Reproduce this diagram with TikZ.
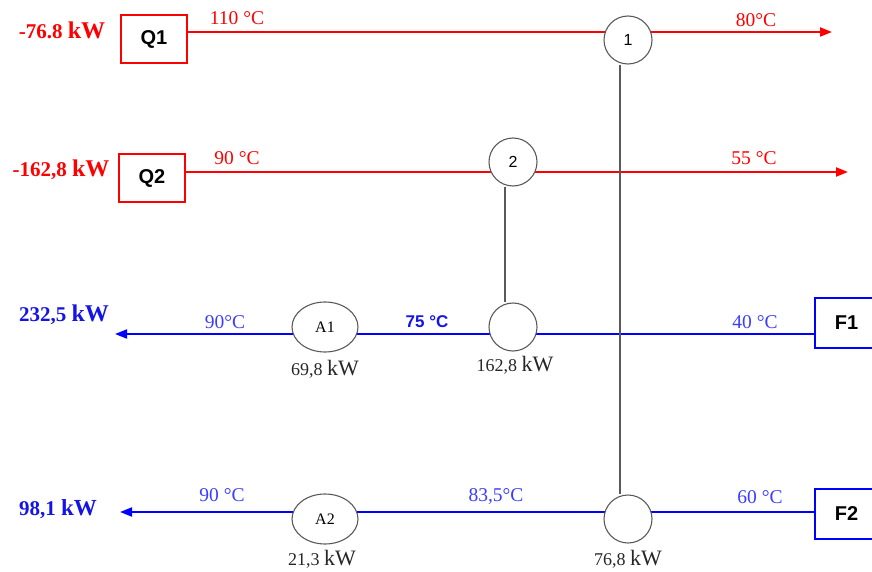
\documentclass[tikz,border=0pt]{standalone}
\usepackage{fontspec}
\setmainfont{Liberation Serif}
\setsansfont{Liberation Sans}
\usetikzlibrary{arrows.meta,backgrounds,shapes.geometric}
\definecolor{hotred}{RGB}{255,0,0}
\definecolor{coldblue}{RGB}{0,0,255}
\definecolor{tblue}{RGB}{60,60,255}
\definecolor{kwblue}{RGB}{20,20,230}
\definecolor{hxgray}{RGB}{90,90,90}
\newcommand{\bigkw}[1]{{\fontsize{#1}{#1}\selectfont kW}}
\tikzset{
  hot/.style={draw=hotred,line width=2pt},
  cold/.style={draw=coldblue,line width=2pt},
  flowtip/.style={-{Triangle[length=12pt,width=9pt]}},
  link/.style={draw=hxgray,line width=1.3pt},
  hx/.style={circle,draw=hxgray,fill=white,line width=1.1pt,minimum size=48pt,inner sep=0pt,font=\sffamily\fontsize{16}{18}\selectfont},
  heater/.style={ellipse,draw=hxgray,fill=white,line width=1.1pt,minimum width=66pt,minimum height=50pt,inner sep=0pt,font=\fontsize{16}{18}\selectfont},
  hotbox/.style={rectangle,draw=hotred,line width=2pt,minimum width=66pt,minimum height=48pt,font=\sffamily\bfseries\fontsize{20}{22}\selectfont},
  coldbox/.style={rectangle,draw=coldblue,line width=2pt,minimum width=63pt,minimum height=50pt,font=\sffamily\bfseries\fontsize{20}{22}\selectfont},
  duty/.style={font=\bfseries\fontsize{21}{24}\selectfont},
  temp/.style={font=\fontsize{19.5}{22}\selectfont},
  load/.style={font=\fontsize{18}{21}\selectfont,text=black!85},
}
\begin{document}
\begin{tikzpicture}[x=1pt,y=-1pt]
\useasboundingbox (0,0) rectangle (872,572);
% stream boxes
\node[hotbox] (Q1) at (154,39) {Q1};
\node[hotbox] (Q2) at (152,178) {Q2};
\node[coldbox] (F1) at (846.5,323) {F1};
\node[coldbox] (F2) at (846.5,514) {F2};
% exchangers
\node[hx] (c1) at (628,40) {1};
\node[hx] (c2) at (513,162) {2};
\node[hx] (c3) at (513,327) {};
\node[hx] (c4) at (628,519) {};
\node[heater] (A1) at (325,327) {A1};
\node[heater] (A2) at (325,519) {A2};
% free ends
\coordinate (e1) at (832,32);
\coordinate (e2) at (848,172);
\coordinate (e3) at (115,334);
\coordinate (e4) at (120,512);
\begin{pgfonlayer}{background}
\draw[hot,flowtip] (Q1.east |- e1) -- (e1);
\draw[hot,flowtip] (Q2.east |- e2) -- (e2);
\draw[cold,flowtip] (F1.west |- e3) -- (e3);
\draw[cold,flowtip] (F2.west |- e4) -- (e4);
\draw[link] ([xshift=-8pt]c1.south) -- ([xshift=-8pt]c4.north);
\draw[link] ([xshift=-8pt]c2.south) -- ([xshift=-8pt]c3.north);
\end{pgfonlayer}
% duties
\node[duty,text=hotred] (d1) at (62,30) {-76.8 \bigkw{24}};
\node[duty,text=hotred] (d2) at (61,170) {-162,8 \bigkw{24}};
\node[duty,text=kwblue] (d3) at (64,315) {232,5 \bigkw{24}};
\node[duty,text=kwblue] (d4) at (58,509) {98,1 \bigkw{23}};
% temperatures
\node[temp,text=hotred] (t1) at (237,18) {110 °C};
\node[temp,text=hotred] (t2) at (756,20) {80°C};
\node[temp,text=hotred] (t3) at (237,158) {90 °C};
\node[temp,text=hotred] (t4) at (754,158) {55 °C};
\node[temp,text=tblue] (t5) at (225,322) {90°C};
\node[font=\sffamily\bfseries\fontsize{17}{20}\selectfont,text=kwblue] (t6) at (427,322) {75 °C};
\node[temp,text=tblue] (t7) at (755,322) {40 °C};
\node[temp,text=tblue] (t8) at (222,495) {90 °C};
\node[temp,text=tblue] (t9) at (496,497) {83,5°C};
\node[temp,text=tblue] (t10) at (760,497) {60 °C};
% loads
\node[load] (l1) at (325,369) {69,8 \bigkw{22}};
\node[load] (l2) at (515,365) {162,8 \bigkw{22}};
\node[load] (l3) at (322,559) {21,3 \bigkw{22}};
\node[load] (l4) at (628,559) {76,8 \bigkw{22}};
\end{tikzpicture}
\end{document}
